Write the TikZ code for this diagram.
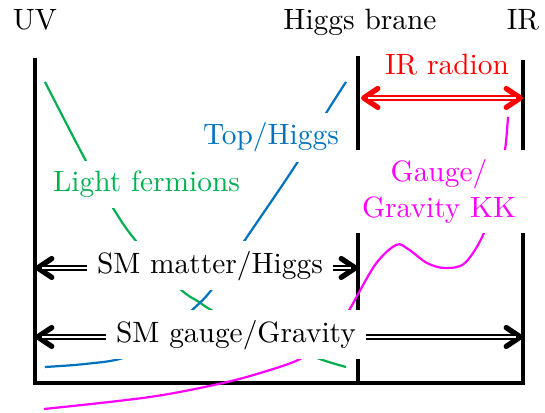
\documentclass[tikz,border=0pt]{standalone}
\usetikzlibrary{arrows.meta}
\definecolor{lfgreen}{RGB}{0,176,80}
\definecolor{thblue}{RGB}{0,114,189}
\definecolor{kkmag}{RGB}{255,0,255}
\begin{document}
\begin{tikzpicture}[x=0.34pt,y=-0.34pt,
  brane/.style={line width=1.3pt},
  curve/.style={line width=0.75pt},
  tipends/.style={line width=0.7pt,{Straight Barb[round,length=4.8pt,width=6.4pt,line width=1.8pt]}-{Straight Barb[round,length=4.8pt,width=6.4pt,line width=1.8pt]}},
  dbl/.style={double,line width=0.7pt,double distance=0.8pt,shorten <=2.5pt,shorten >=2.5pt},
  lbl/.style={fill=white,inner sep=3.33pt}]
\useasboundingbox (0,0) rectangle (545,413);
% brane coordinates
\coordinate (uvtop) at (35,58);
\coordinate (uvbot) at (35,383);
\coordinate (hbtop) at (358,56);
\coordinate (hbbot) at (358,383);
\coordinate (irtop) at (523,60);
\coordinate (irbot) at (523,383);
\coordinate (radL) at (361,98);
\coordinate (radR) at (523,98);
\coordinate (smmL) at (35,268);
\coordinate (smmR) at (358,268);
\coordinate (smgL) at (35,337);
\coordinate (smgR) at (523,337);
% branes
\draw[brane] (uvtop) -- (uvbot) -- (irbot) -- (irtop);
\draw[brane] (hbtop) -- (hbbot);
% profiles
\draw[curve,lfgreen] plot[smooth,tension=0.6] coordinates {(45,82) (86,161) (113,208) (136,241) (178,287) (199,302) (215,312) (265,337) (317,358) (346,367)};
\draw[curve,thblue] plot[smooth,tension=0.6] coordinates {(45,367) (85,364) (123,358) (157,341) (190,312) (213,288) (245,240) (297,163) (325,115) (346,82)};
\draw[curve,kkmag] plot[smooth,tension=0.55] coordinates {(44,409) (150,397) (223,383) (270,370) (302,358) (330,337) (348,312) (375,265) (396,245) (408,249) (427,263) (445,268) (465,263) (484,233) (497,190) (505,150) (508,117)};
% arrows
\draw[tipends,red] (radL) -- (radR);
\draw[dbl,red] (radL) -- (radR);
\draw[tipends] (smmL) -- (smmR);
\draw[dbl] (smmL) -- (smmR);
\draw[tipends] (smgL) -- (smgR);
\draw[dbl] (smgL) -- (smgR);
% labels
\node[anchor=base] (uv) at (35,30) {UV};
\node[anchor=base] (hb) at (360,30) {Higgs brane};
\node[anchor=base] (ir) at (523,30) {IR};
\node[text=red] (rad) at (447,65) {IR radion};
\node[lbl,text=thblue] (th) at (271,137.5) {Top/Higgs};
\node[lbl,text=lfgreen] (lf) at (146.5,184.5) {Light fermions};
\node[lbl,text=kkmag,align=center,inner xsep=4.5pt] (kk) at (439,191.5) {Gauge/\\Gravity KK};
\node[lbl] (smm) at (210,266) {SM matter/Higgs};
\node[lbl] (smg) at (236,335) {SM gauge/Gravity};
\end{tikzpicture}
\end{document}
